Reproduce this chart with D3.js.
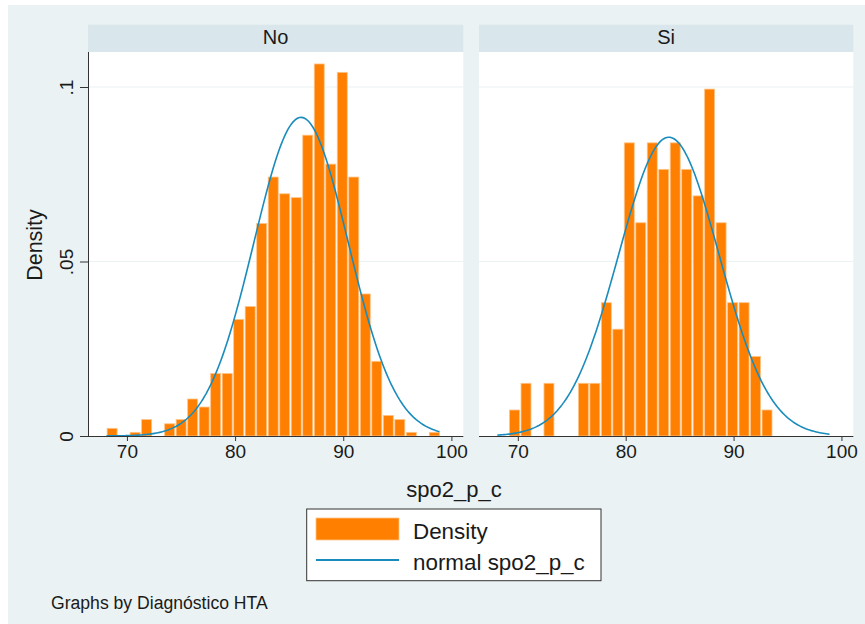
<!DOCTYPE html>
<html><head><meta charset="utf-8">
<script src="https://cdn.jsdelivr.net/npm/d3@7"></script>
<style>body{margin:0;background:#fff}svg{display:block}text{font-family:"Liberation Sans",Arial,sans-serif;fill:#1a1a1a}</style>
</head><body>
<svg id="c" width="865" height="624"></svg>
<script>
// ---- data ----
const panels = ["No", "Si"];
const binStart = 68.12;
const binWidth = 1.064;
const noDensity = [0.0022,0,0.00105,0.0047,0,0.0035,0.0047,0.0106,0.0083,0.0179,0.0179,0.0334,0.0371,0.0609,0.0742,0.0694,0.0683,0.0862,0.1066,0.0779,0.1042,0.0742,0.0407,0.0214,0.0059,0.0047,0.00105,0,0.00105];
const siDensity = [0,0.00745,0.0151,0,0.0151,0,0,0.0151,0.0151,0.0382,0.0306,0.0840,0.0611,0.0840,0.0764,0.0840,0.0764,0.0688,0.0994,0.0611,0.0382,0.0382,0.0228,0.00745,0,0,0,0,0];
const normalMean = [86.1, 84.0];
const normalSd = [4.37, 4.66];
const curveRange = [68.1, 98.9];
const xTicks = [70, 80, 90, 100];
const yTicks = [0, 0.05, 0.1];
const yTickLabels = ["0", ".05", ".1"];
const legendLabels = ["Density", "normal spo2_p_c"];
const xTitle = "spo2_p_c", yTitle = "Density", note = "Graphs by Diagnóstico HTA";
const densities = [noDensity, siDensity];

// ---- styles ----
const BG = "#eaf2f3", STRIP = "#d9e6eb", ORANGE = "#ff8000", BLUE = "#1a8cbc", AXIS = "#333";
const svg = d3.select("#c");
svg.append("rect").attr("x", 8).attr("y", 5).attr("width", 857).attr("height", 619).attr("fill", BG);

const plotTop = 52, plotBottom = 436;
const ranges = [[88, 463.3], [479, 853.3]];
const y = d3.scaleLinear().domain([0, 0.1]).range([plotBottom, 87]);

panels.forEach((name, p) => {
  const x = d3.scaleLinear().domain([66.4, 101.1]).range(ranges[p]);
  const g = svg.append("g");
  const [x0, x1] = ranges[p];
  // strip
  g.append("rect").attr("x", x0).attr("y", 24.7).attr("width", x1 - x0).attr("height", plotTop - 24.7).attr("fill", STRIP);
  g.append("text").attr("x", (x0 + x1) / 2).attr("y", 44).attr("text-anchor", "middle").attr("font-size", 20).text(name);
  // plot area
  g.append("rect").attr("x", x0).attr("y", plotTop).attr("width", x1 - x0).attr("height", plotBottom - plotTop).attr("fill", "#fff");
  // grid
  g.selectAll(".grid").data(yTicks.filter(d => d > 0)).join("line")
    .attr("x1", x0).attr("x2", x1).attr("y1", d => y(d)).attr("y2", d => y(d))
    .attr("stroke", BG).attr("stroke-width", 1.2);
  // bars
  const bars = densities[p].map((d, i) => ({lo: binStart + i * binWidth, hi: binStart + (i + 1) * binWidth, d})).filter(b => b.d > 0);
  g.selectAll(".bar").data(bars).join("rect")
    .attr("x", b => x(b.lo) + 0.5).attr("width", b => x(b.hi) - x(b.lo) - 1.5)
    .attr("y", b => y(b.d)).attr("height", b => y(0) - y(b.d))
    .attr("fill", ORANGE).attr("stroke", "#ffc489").attr("stroke-width", 0.8);
  // normal curve
  const pts = d3.range(0, 201).map(k => {
    const v = curveRange[0] + (curveRange[1] - curveRange[0]) * k / 200;
    const z = (v - normalMean[p]) / normalSd[p];
    return [v, Math.exp(-0.5 * z * z) / (normalSd[p] * Math.sqrt(2 * Math.PI))];
  });
  g.append("path").datum(pts).attr("fill", "none").attr("stroke", BLUE).attr("stroke-width", 1.6)
    .attr("d", d3.line().x(d => x(d[0])).y(d => y(d[1])));
  // x axis
  const xa = g.append("g").attr("transform", `translate(0,${plotBottom})`)
    .call(d3.axisBottom(x).tickValues(xTicks).tickSize(5).tickPadding(6).tickFormat(d3.format("d")));
  xa.select(".domain").attr("d", `M${x0},0.5H${x1}`).attr("stroke", AXIS);
  xa.selectAll(".tick line").attr("stroke", AXIS);
  xa.selectAll(".tick text").attr("font-size", 19).attr("font-family", '"Liberation Sans",Arial,sans-serif').attr("fill", "#1a1a1a").attr("dy", "0.6em");
  if (p === 0) {
    const ya = g.append("g").attr("transform", `translate(${x0},0)`)
      .call(d3.axisLeft(y).tickValues(yTicks).tickSize(8).tickFormat((d, i) => yTickLabels[i]));
    ya.select(".domain").attr("d", `M0.5,${plotTop}V${plotBottom}`).attr("stroke", AXIS);
    ya.selectAll(".tick line").attr("stroke", AXIS);
    ya.selectAll(".tick text").attr("font-size", 19).attr("font-family", '"Liberation Sans",Arial,sans-serif').attr("fill", "#1a1a1a")
      .attr("text-anchor", "middle").attr("x", 0).attr("dy", 0)
      .attr("transform", "translate(-15,0) rotate(-90)");
  }
});

// titles
svg.append("text").attr("transform", "translate(42,245) rotate(-90)").attr("text-anchor", "middle").attr("font-size", 21.5).text(yTitle);
svg.append("text").attr("x", 454).attr("y", 497).attr("text-anchor", "middle").attr("font-size", 22).text(xTitle);

// legend
const lg = svg.append("g");
lg.append("rect").attr("x", 306.7).attr("y", 509).attr("width", 294.3).attr("height", 71.7).attr("fill", "#fff").attr("stroke", "#333").attr("stroke-width", 1);
lg.append("rect").attr("x", 316).attr("y", 518).attr("width", 83).attr("height", 22).attr("fill", ORANGE).attr("stroke", "#ffc489").attr("stroke-width", 0.8);
lg.append("line").attr("x1", 316).attr("x2", 399).attr("y1", 560).attr("y2", 560).attr("stroke", BLUE).attr("stroke-width", 1.8);
lg.append("text").attr("x", 413).attr("y", 538.5).attr("font-size", 22.4).text(legendLabels[0]);
lg.append("text").attr("x", 413).attr("y", 569.5).attr("font-size", 22.4).text(legendLabels[1]);

// note
svg.append("text").attr("x", 51).attr("y", 609).attr("font-size", 17.6).text(note);
</script>
</body></html>
